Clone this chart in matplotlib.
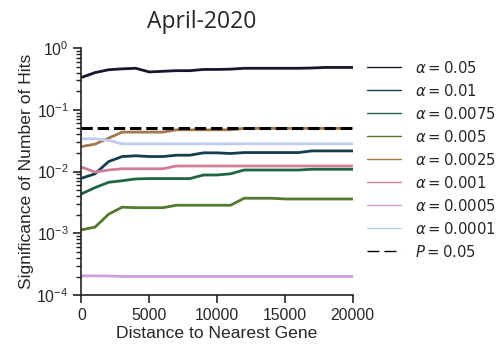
import matplotlib
matplotlib.use("Agg")
import matplotlib.pyplot as plt
import seaborn as sns
import numpy as np

sns.set_style("ticks")
plt.rcParams['font.family'] = ['Liberation Sans', 'DejaVu Sans']

distance = list(range(0, 20001, 1000))

alpha_labels = ["0.05", "0.01", "0.0075", "0.005", "0.0025", "0.001", "0.0005", "0.0001"]

sig_005 = [0.334, 0.40, 0.445, 0.46, 0.47, 0.41, 0.42, 0.43, 0.43, 0.45, 0.45,
           0.455, 0.47, 0.47, 0.47, 0.47, 0.47, 0.475, 0.485, 0.485, 0.485]
sig_001 = [0.0078, 0.0092, 0.0145, 0.0175, 0.018, 0.0175, 0.0175, 0.0184, 0.0184, 0.0201, 0.0201,
           0.0196, 0.0203, 0.0203, 0.0203, 0.0203, 0.0203, 0.0216, 0.0216, 0.0216, 0.0216]
sig_00075 = [0.00435, 0.0055, 0.0067, 0.0071, 0.0076, 0.0077, 0.0077, 0.0077, 0.0077, 0.0088, 0.0088,
             0.0092, 0.0106, 0.0106, 0.0106, 0.0106, 0.0106, 0.0109, 0.0109, 0.0109, 0.0109]
sig_0005 = [0.00114, 0.00126, 0.00204, 0.00265, 0.0026, 0.0026, 0.0026, 0.00285, 0.00285, 0.00285, 0.00285,
            0.00285, 0.0037, 0.0037, 0.0037, 0.0036, 0.0036, 0.0036, 0.0036, 0.0036, 0.0036]
sig_00025 = [0.0254, 0.0278, 0.0348, 0.0435, 0.0435, 0.0435, 0.0435, 0.0474, 0.0474, 0.0474, 0.0474,
             0.0474, 0.05, 0.05, 0.05, 0.05, 0.05, 0.05, 0.05, 0.05, 0.05]
sig_0001 = [0.0118, 0.0098, 0.0106, 0.0111, 0.0111, 0.0111, 0.0111, 0.0123, 0.0123, 0.0123, 0.0123,
            0.0123, 0.0123, 0.0123, 0.0123, 0.0123, 0.0123, 0.0123, 0.0123, 0.0123, 0.0123]
sig_00005 = [0.000205, 0.000205, 0.000204, 0.0002, 0.0002, 0.0002, 0.0002, 0.0002, 0.0002, 0.0002, 0.0002,
             0.0002, 0.0002, 0.0002, 0.0002, 0.0002, 0.0002, 0.0002, 0.0002, 0.0002, 0.0002]
sig_00001 = [0.034, 0.034, 0.032, 0.0281, 0.0281, 0.0281, 0.0281, 0.0281, 0.0281, 0.0281, 0.0281,
             0.0281, 0.0281, 0.0281, 0.0281, 0.0281, 0.0281, 0.0281, 0.0281, 0.0281, 0.0281]

series = [sig_005, sig_001, sig_00075, sig_0005, sig_00025, sig_0001, sig_00005, sig_00001]
p_threshold = 0.05

# cubehelix colours, one per significance level
colors = plt.get_cmap("cubehelix")(np.linspace(0.1, 0.8, len(series)))

fig = plt.figure(figsize=(5.03, 3.48), dpi=100)
ax = fig.add_axes([0.162, 0.152, 0.539, 0.710])

for vals, lab, c in zip(series, alpha_labels, colors):
    ax.plot(distance, vals, color=c, lw=2.0, label=r"$\alpha = %s$" % lab)
ax.axhline(p_threshold, color="black", lw=2.2, ls="--", label=r"$P = 0.05$")

ax.set_yscale("log")
ax.set_ylim(1e-4, 1)
ax.set_xlim(0, 20000)
ax.set_xticks([0, 5000, 10000, 15000, 20000])
ax.tick_params(axis="both", which="major", labelsize=11.3, length=6, width=1.2, color="#222222")
ax.tick_params(axis="y", which="minor", length=3.5, width=1.0, color="#222222")
for s in ["left", "bottom"]:
    ax.spines[s].set_color("#222222")
    ax.spines[s].set_linewidth(1.2)
sns.despine(ax=ax)

ax.set_xlabel("Distance to Nearest Gene", fontsize=12.6, labelpad=2)
ax.set_ylabel("Significance of Number of Hits", fontsize=12.6, labelpad=2)

leg = ax.legend(loc="upper left", bbox_to_anchor=(0.703, 0.867), bbox_transform=fig.transFigure,
                frameon=False, handlelength=2.3, labelspacing=0.47, handletextpad=0.9,
                prop={"family": "DejaVu Sans", "size": 10.7})
leg_lines = leg.get_lines()
for h in leg_lines:
    h.set_linewidth(1.0)
leg_lines[-1].set_dashes([8.6, 3.6])

fig.text(202 / 503, 1 - 28 / 348, "April-2020", fontsize=16.5, family="Open Sans",
         ha="center", va="baseline")

fig.savefig("out.png", dpi=100)
